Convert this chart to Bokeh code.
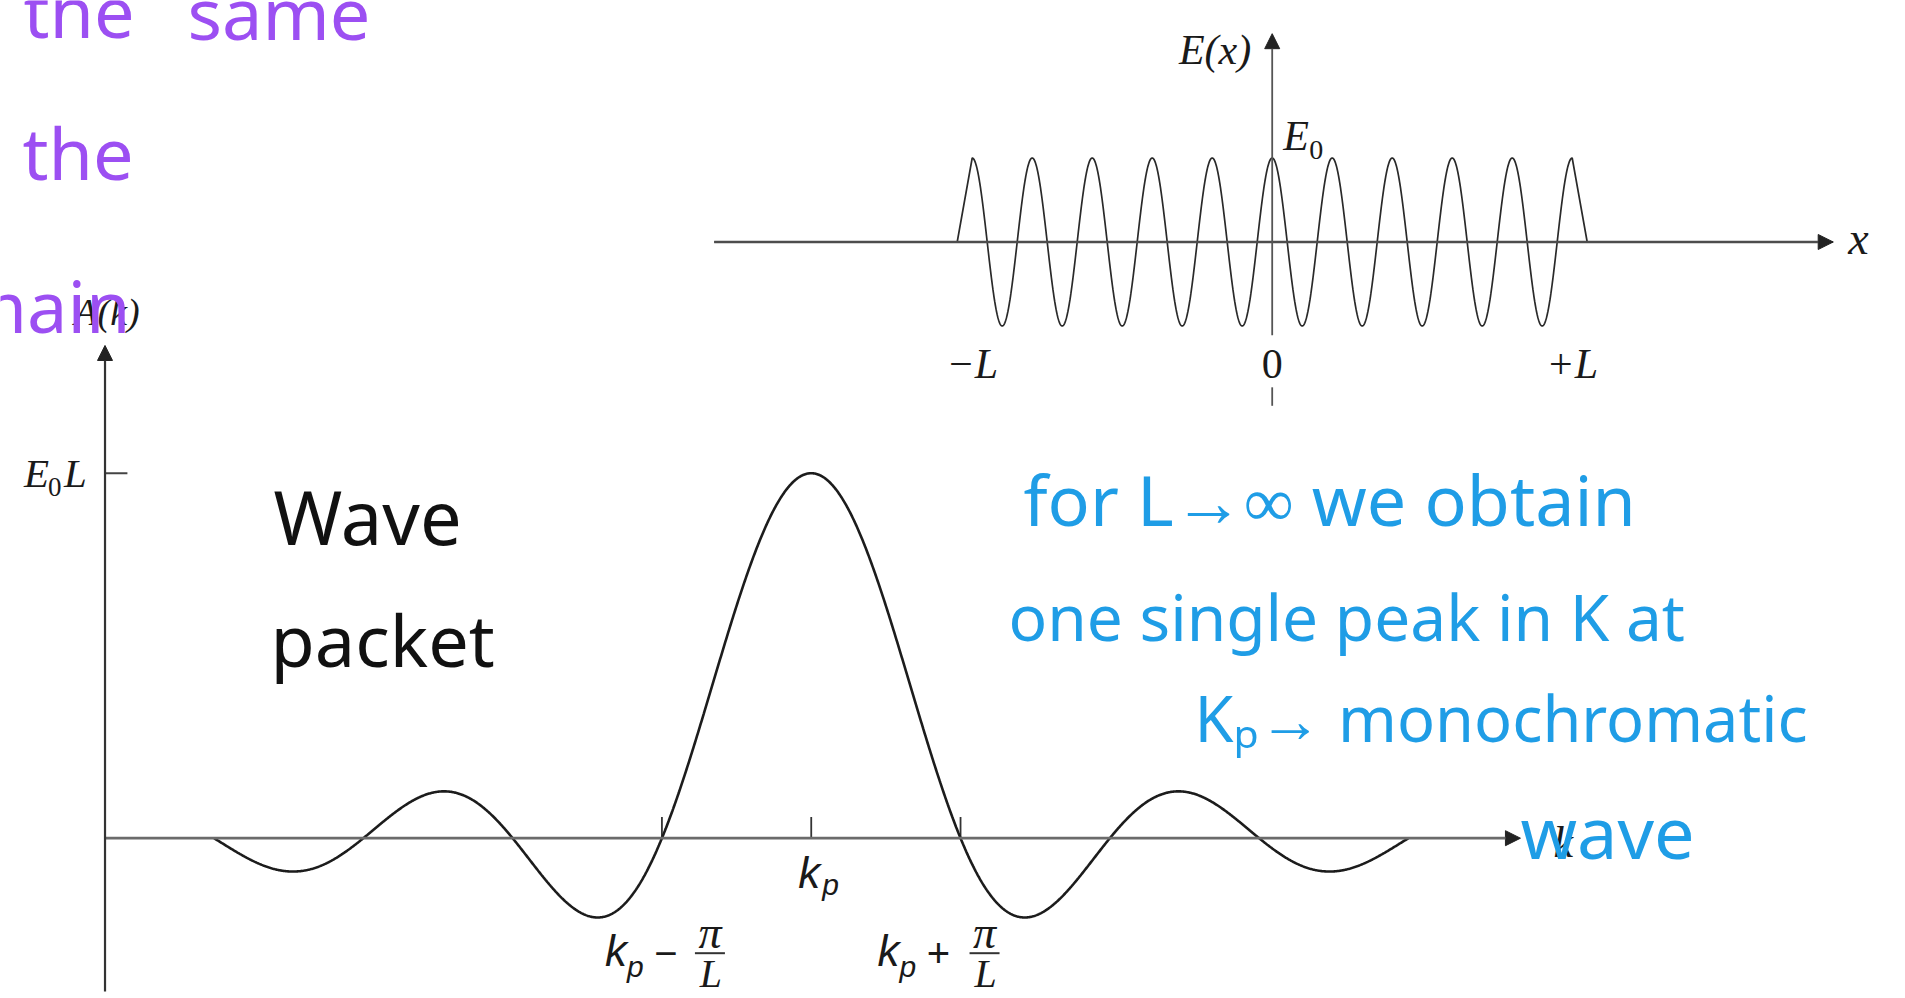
import numpy as np
from bokeh.plotting import figure
from bokeh.models import Range1d, Arrow, NormalHead
from bokeh.core.properties import value
from bokeh.embed import file_html
from bokeh.resources import INLINE

# ---- E(x): a cosine train of amplitude E0 switched on between -L and +L ----
E0 = 1.0
L = 1.0
cycles = 10                 # full periods between -L and +L
ramp = 0.05                 # width of the switch-on / switch-off edge (units of L)
x_axis_span = [-1.86, 1.87]
e_axis_span = [-1.11, 2.48]
x_tick_values = [-1.0, 0.0, 1.0]
x_tick_labels = ["\u2212L", "0", "+L"]

# ---- A(k): its spectrum; k measured from k_p in units of pi/L ----
peak = 1.0                  # E0 * L
lobes = 4                   # zero crossings drawn on each side of k_p
k_axis_span = [-4.73, 4.75]
a_axis_span = [-0.42, 1.35]
k_tick_values = [-1.0, 0.0, 1.0]
k_tick_signs = ["\u2212", "", "+"]

# ---- handwritten notes ----
purple_notes = ["the", "same", "the", "domain"]
black_notes = ["Wave", "packet"]
blue_notes = ["for L\u2192\u221e we obtain", "one single peak in K at",
              "K\u209a\u2192 monochromatic", "wave"]

# sampled curves
xw = np.linspace(-L, L, 2001)
ew = E0 * np.cos(np.pi * cycles * xw / L)
x_wave = np.concatenate(([x_axis_span[0], -L - ramp * L], xw, [L + ramp * L, x_axis_span[1]]))
e_wave = np.concatenate(([0.0, 0.0], ew, [0.0, 0.0]))

uk = np.linspace(-lobes, lobes, 1601)
a_k = peak * np.sinc(uk)

W, H = 1905, 998
p = figure(width=W, height=H,
           x_range=Range1d(-5.430, 7.329), y_range=Range1d(-0.4392, 2.2951),
           x_axis_location=None, y_axis_location=None,
           output_backend="svg", toolbar_location=None, min_border=0,
           background_fill_color="white", border_fill_color="white")
p.outline_line_color = None
p.xgrid.visible = False
p.ygrid.visible = False
p.grid.grid_line_color = None
p.extra_x_ranges = {"xs": Range1d(-4.239, 2.111), "nx": Range1d(0, W)}
p.extra_y_ranges = {"es": Range1d(-9.006, 2.875), "ny": Range1d(H, 0)}
TOP = dict(x_range_name="xs", y_range_name="es")
PAGE = dict(x_range_name="nx", y_range_name="ny")

SERIF = "Liberation Serif"
SANS = "Liberation Sans"
HAND = "Noto Sans"
INK = "#1a1a1a"


def txt(x, y, s, size, font=SERIF, style="italic", align="left",
        dx=0, dy=0, color=INK, space=None):
    kw = space or {}
    p.text(x=[x], y=[y], text=[s], text_font=value(font), text_font_style=style,
           text_font_size=f"{size}px", text_color=color, text_align=align,
           text_baseline="middle", x_offset=dx, y_offset=dy, **kw)


def head():
    return NormalHead(size=15, fill_color="#222222", line_color="#222222", line_width=1)


# ================= upper figure: E(x) =================
p.add_layout(Arrow(end=head(), x_start=x_axis_span[0], y_start=0, x_end=x_axis_span[1], y_end=0,
                   line_color="#4d4d4d", line_width=2.4, **TOP))
p.add_layout(Arrow(end=head(), x_start=0, y_start=e_axis_span[0], x_end=0, y_end=e_axis_span[1],
                   line_color="#555555", line_width=1.8, **TOP))
p.segment(x0=[0], y0=[-1.73], x1=[0], y1=[-1.95], line_color="#555555", line_width=1.8, **TOP)
p.line(x_wave, e_wave, line_color="#2a2a2a", line_width=1.7, **TOP)

txt(0, 2.28, "E(x)", 42, align="right", dx=-21, space=TOP)
txt(0, E0, "E", 42, dx=11, dy=-22, space=TOP)
txt(0, E0, "0", 28, style="normal", dx=37, dy=-8, space=TOP)
for xv, lab in zip(x_tick_values, x_tick_labels):
    txt(xv, 0, lab, 42, style="normal" if lab == "0" else "italic",
        align="center", dy=122, space=TOP)
txt(x_axis_span[1], 0, "x", 46, dx=15, dy=-3, space=TOP)

# ================= lower figure: A(k) =================
u_axis = k_axis_span[0]
p.add_layout(Arrow(end=head(), x_start=u_axis, y_start=0, x_end=k_axis_span[1], y_end=0,
                   line_color="#6b6b6b", line_width=2.8))
p.add_layout(Arrow(end=head(), x_start=u_axis, y_start=a_axis_span[0], x_end=u_axis,
                   y_end=a_axis_span[1], line_color="#333333", line_width=2.2))

# ticks on the k axis and at E0 L
p.segment(x0=k_tick_values, y0=[0] * 3, x1=k_tick_values, y1=[0.058] * 3,
          line_color="#333333", line_width=1.8)
p.segment(x0=[u_axis], y0=[peak], x1=[u_axis + 0.15], y1=[peak],
          line_color="#444444", line_width=2)

p.line(uk, a_k, line_color="#1c1c1c", line_width=2.6)

# value label at the peak height
txt(u_axis, peak, "E", 41, dx=-81, dy=0)
txt(u_axis, peak, "0", 27, style="normal", dx=-57, dy=14)
txt(u_axis, peak, "L", 41, dx=-41, dy=0)
txt(u_axis, a_axis_span[1], "A(k)", 38, align="center", dx=2, dy=-33)
txt(k_axis_span[1], 0, "k", 44, dx=33, dy=4)

# k_p under its tick
txt(0, 0, "k", 44, font=SANS, dx=-13, dy=34)
txt(0, 0, "p", 30, font=SANS, dx=11, dy=46)

# k_p -/+ pi/L
frac_shift = {-1.0: 0, 1.0: -26}
frac_center = {-1.0: 48, 1.0: 24}
for kv, sign in zip(k_tick_values, k_tick_signs):
    if not sign:
        continue
    s = frac_shift[kv]
    c = frac_center[kv]
    txt(kv, 0, "k", 44, font=SANS, dx=-57 + s, dy=112)
    txt(kv, 0, "p", 30, font=SANS, dx=-35 + s, dy=128)
    txt(kv, 0, sign, 40, font=SANS, style="normal", align="center",
        dx=4 + s if sign == "\u2212" else -22, dy=115)
    txt(kv, 0, "\u03c0", 46, align="center", dx=c, dy=94)
    half = 15 / 149.3
    p.segment(x0=[kv + c / 149.3 - half], y0=[-115 / 365], x1=[kv + c / 149.3 + half],
              y1=[-115 / 365], line_color="#333333", line_width=2)
    txt(kv, 0, "L", 40, align="center", dx=c + 1, dy=135)

# ================= handwritten notes (page pixel coordinates) =================
PURPLE = "#9c4ff2"
BLUE = "#1f9de6"


def note(x, y, s, size, color, align="left"):
    txt(x, y, s, size, font=HAND, style="normal", align=align, color=color, space=PAGE)


note(23, 9, purple_notes[0], 72, PURPLE)
note(187, 11, purple_notes[1], 72, PURPLE)
note(22, 151, purple_notes[2], 72, PURPLE)
note(130, 304, purple_notes[3], 72, PURPLE, align="right")

note(273, 516, black_notes[0], 74, "#111111")
note(270, 638, black_notes[1], 72, "#111111")

note(1023, 498, blue_notes[0], 70, BLUE)
note(1008, 616, blue_notes[1], 64, BLUE)
note(1194, 717, blue_notes[2], 63, BLUE)
note(1520, 830, blue_notes[3], 72, BLUE)

open("out.html", "w").write(file_html(p, INLINE))
